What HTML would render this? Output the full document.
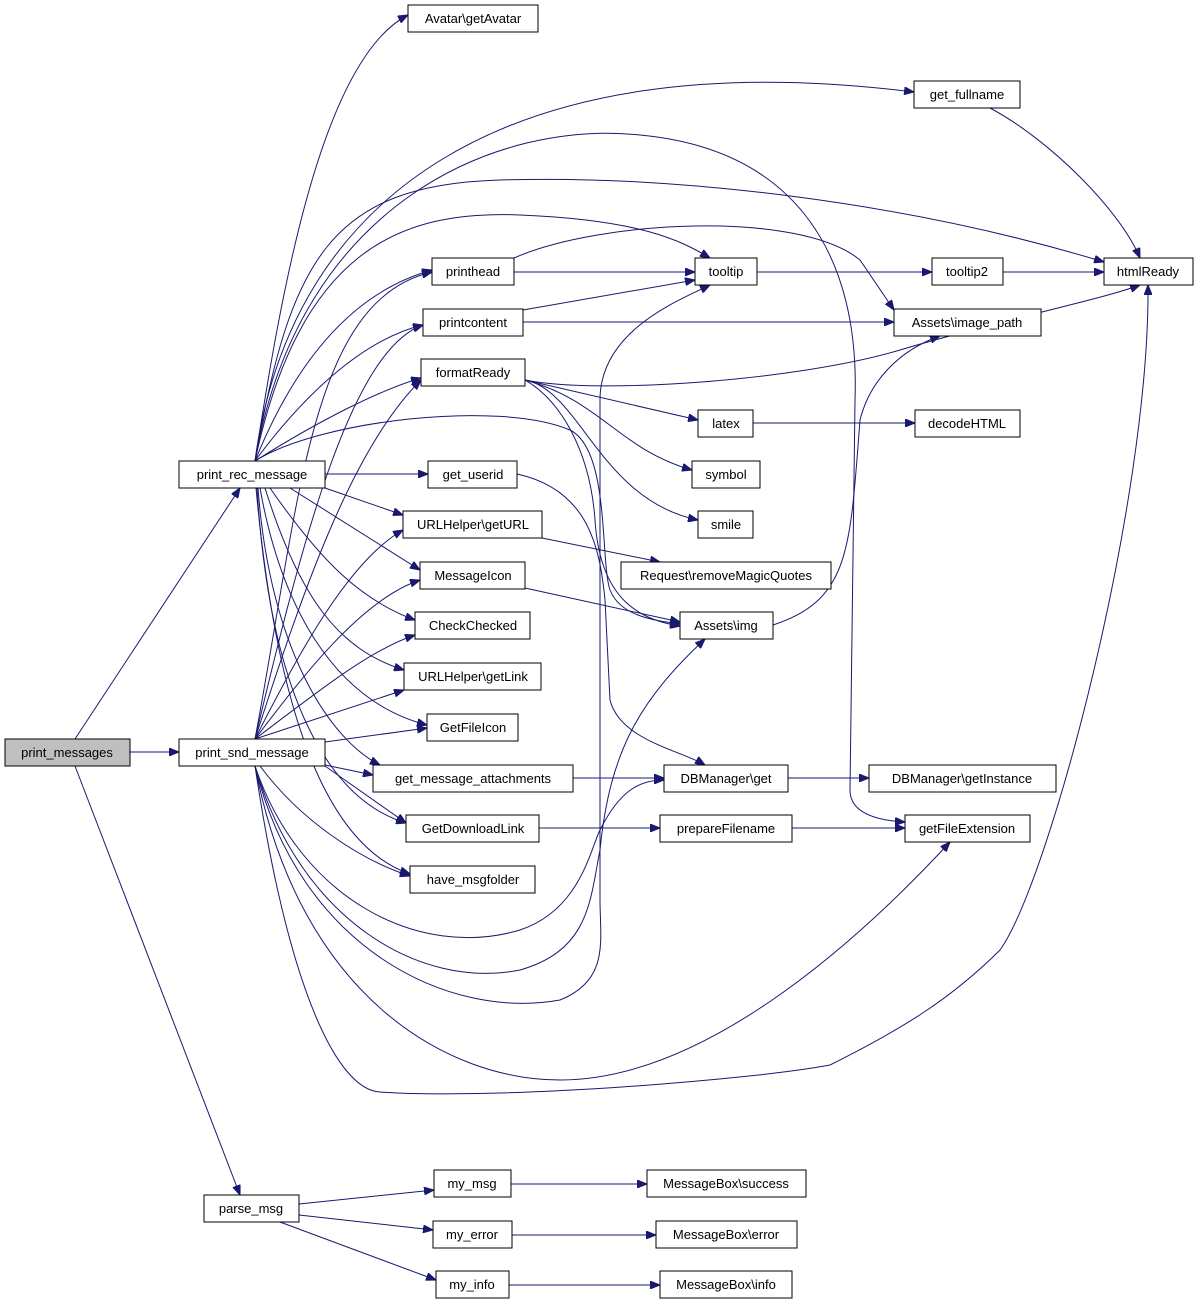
<!DOCTYPE html>
<html><head><meta charset="utf-8"><style>
html,body{margin:0;padding:0;background:#fff;}
svg{display:block;}
text{font-family:"Liberation Sans",sans-serif;font-size:13px;fill:#000;}
.n{fill:#fff;stroke:#000;stroke-width:1;}
.e{fill:none;stroke:#191970;stroke-width:1;}
</style></head><body>
<svg width="1200" height="1304" viewBox="0 0 1200 1304" xmlns="http://www.w3.org/2000/svg">
<defs><marker id="a" markerWidth="11" markerHeight="8" refX="10" refY="4" orient="auto" markerUnits="userSpaceOnUse"><path d="M0,0 L10,4 L0,8 z" fill="#191970" stroke="#191970"/></marker></defs>
<g class="e" marker-end="url(#a)">
<path d="M75,739 L240,488"/>
<path d="M130,752 L179,752"/>
<path d="M75,766 L240,1195"/>
<path d="M255,461 C280,300 320,60 408,15"/>
<path d="M255,461 C290,200 500,40 914,92"/>
<path d="M255,461 C290,260 330,185 500,180 S900,200 1104,262"/>
<path d="M255,461 C300,350 360,290 432,270"/>
<path d="M255,461 C300,250 400,210 520,215 S680,240 710,258"/>
<path d="M255,461 C300,400 360,340 423,325"/>
<path d="M255,461 C320,420 380,390 421,378"/>
<path d="M255,461 C300,200 500,120 640,135 C800,150 860,260 855,400 L850,790 C850,810 870,820 905,822"/>
<path d="M514,258 C600,220 800,210 860,260 L894,310"/>
<path d="M325,474 L428,474"/>
<path d="M255,461 C320,420 500,400 570,430 C610,450 600,560 610,590 C620,615 650,620 680,624"/>
<path d="M325,488 L403,515"/>
<path d="M290,488 L420,570"/>
<path d="M270,488 C320,560 360,600 415,620"/>
<path d="M265,488 C300,600 340,650 404,670"/>
<path d="M260,488 C280,600 330,700 427,725"/>
<path d="M258,488 C270,650 330,740 380,765"/>
<path d="M257,488 C270,700 330,800 406,823"/>
<path d="M256,488 C280,750 340,850 410,874"/>
<path d="M255,739 C300,500 310,300 432,272"/>
<path d="M255,739 C300,550 350,350 423,325"/>
<path d="M255,739 C300,600 350,450 421,380"/>
<path d="M255,739 C300,650 350,560 403,530"/>
<path d="M255,739 C300,680 360,600 420,580"/>
<path d="M255,739 C320,690 370,650 415,635"/>
<path d="M255,739 L404,690"/>
<path d="M325,742 L427,728"/>
<path d="M325,765 L373,775"/>
<path d="M325,766 L406,823"/>
<path d="M260,766 C300,820 360,860 410,876"/>
<path d="M255,766 C300,900 420,960 520,930 C580,910 590,850 600,830 C620,790 640,780 664,780"/>
<path d="M255,766 C300,920 420,990 520,970 C590,950 590,900 600,850 C610,750 640,700 705,639"/>
<path d="M255,766 C300,950 450,1020 560,1000 C610,980 600,940 600,900 L600,400 C600,330 680,300 710,285"/>
<path d="M255,766 C300,1000 450,1080 560,1080 C700,1080 850,950 950,842"/>
<path d="M255,766 C290,1000 340,1090 380,1092 C500,1100 750,1080 830,1065 C900,1030 950,1000 1000,950 C1050,880 1150,500 1148,285"/>
<path d="M517,474 C590,490 600,550 605,600 L610,700 C620,740 680,750 705,765"/>
<path d="M525,380 C600,395 800,380 900,350 C1000,320 1100,300 1140,285"/>
<path d="M525,380 L698,420"/>
<path d="M525,380 C600,400 620,450 692,470"/>
<path d="M525,380 C580,390 600,500 698,520"/>
<path d="M525,380 C560,400 590,450 595,520 C600,600 640,620 680,626"/>
<path d="M514,272 L695,272"/>
<path d="M523,310 L695,280"/>
<path d="M523,322 L894,322"/>
<path d="M757,272 L932,272"/>
<path d="M1003,272 L1104,272"/>
<path d="M990,108 C1050,140 1120,210 1140,258"/>
<path d="M773,625 C850,600 850,550 860,420 C870,380 900,350 940,336"/>
<path d="M753,423 L915,423"/>
<path d="M542,538 L660,562"/>
<path d="M525,588 L680,622"/>
<path d="M573,778 L664,778"/>
<path d="M788,778 L869,778"/>
<path d="M539,828 L660,828"/>
<path d="M792,828 L905,828"/>
<path d="M299,1204 L434,1190"/>
<path d="M299,1215 L433,1230"/>
<path d="M280,1222 L436,1280"/>
<path d="M511,1184 L647,1184"/>
<path d="M512,1235 L656,1235"/>
<path d="M509,1285 L660,1285"/>
</g>
<g>
<rect x="5" y="739" width="125" height="27" fill="#bfbfbf" stroke="#000"/><text x="67" y="757" text-anchor="middle">print_messages</text>
<rect class="n" x="179" y="461" width="146" height="27"/><text x="252" y="479" text-anchor="middle">print_rec_message</text>
<rect class="n" x="179" y="739" width="146" height="27"/><text x="252" y="757" text-anchor="middle">print_snd_message</text>
<rect class="n" x="204" y="1195" width="95" height="27"/><text x="251" y="1213" text-anchor="middle">parse_msg</text>
<rect class="n" x="408" y="5" width="130" height="27"/><text x="473" y="23" text-anchor="middle">Avatar\getAvatar</text>
<rect class="n" x="914" y="81" width="106" height="27"/><text x="967" y="99" text-anchor="middle">get_fullname</text>
<rect class="n" x="432" y="258" width="82" height="27"/><text x="473" y="276" text-anchor="middle">printhead</text>
<rect class="n" x="695" y="258" width="62" height="27"/><text x="726" y="276" text-anchor="middle">tooltip</text>
<rect class="n" x="932" y="258" width="71" height="27"/><text x="967" y="276" text-anchor="middle">tooltip2</text>
<rect class="n" x="1104" y="258" width="89" height="27"/><text x="1148" y="276" text-anchor="middle">htmlReady</text>
<rect class="n" x="423" y="309" width="100" height="27"/><text x="473" y="327" text-anchor="middle">printcontent</text>
<rect class="n" x="894" y="309" width="147" height="27"/><text x="967" y="327" text-anchor="middle">Assets\image_path</text>
<rect class="n" x="421" y="359" width="104" height="27"/><text x="473" y="377" text-anchor="middle">formatReady</text>
<rect class="n" x="698" y="410" width="55" height="27"/><text x="726" y="428" text-anchor="middle">latex</text>
<rect class="n" x="915" y="410" width="105" height="27"/><text x="967" y="428" text-anchor="middle">decodeHTML</text>
<rect class="n" x="692" y="461" width="68" height="27"/><text x="726" y="479" text-anchor="middle">symbol</text>
<rect class="n" x="428" y="461" width="89" height="27"/><text x="473" y="479" text-anchor="middle">get_userid</text>
<rect class="n" x="698" y="511" width="55" height="27"/><text x="726" y="529" text-anchor="middle">smile</text>
<rect class="n" x="403" y="511" width="139" height="27"/><text x="473" y="529" text-anchor="middle">URLHelper\getURL</text>
<rect class="n" x="621" y="562" width="210" height="27"/><text x="726" y="580" text-anchor="middle">Request\removeMagicQuotes</text>
<rect class="n" x="420" y="562" width="105" height="27"/><text x="473" y="580" text-anchor="middle">MessageIcon</text>
<rect class="n" x="680" y="612" width="93" height="27"/><text x="726" y="630" text-anchor="middle">Assets\img</text>
<rect class="n" x="415" y="612" width="115" height="27"/><text x="473" y="630" text-anchor="middle">CheckChecked</text>
<rect class="n" x="404" y="663" width="137" height="27"/><text x="473" y="681" text-anchor="middle">URLHelper\getLink</text>
<rect class="n" x="427" y="714" width="91" height="27"/><text x="473" y="732" text-anchor="middle">GetFileIcon</text>
<rect class="n" x="373" y="765" width="200" height="27"/><text x="473" y="783" text-anchor="middle">get_message_attachments</text>
<rect class="n" x="664" y="765" width="124" height="27"/><text x="726" y="783" text-anchor="middle">DBManager\get</text>
<rect class="n" x="869" y="765" width="187" height="27"/><text x="962" y="783" text-anchor="middle">DBManager\getInstance</text>
<rect class="n" x="406" y="815" width="133" height="27"/><text x="473" y="833" text-anchor="middle">GetDownloadLink</text>
<rect class="n" x="660" y="815" width="132" height="27"/><text x="726" y="833" text-anchor="middle">prepareFilename</text>
<rect class="n" x="905" y="815" width="125" height="27"/><text x="967" y="833" text-anchor="middle">getFileExtension</text>
<rect class="n" x="410" y="866" width="125" height="27"/><text x="473" y="884" text-anchor="middle">have_msgfolder</text>
<rect class="n" x="434" y="1170" width="77" height="27"/><text x="472" y="1188" text-anchor="middle">my_msg</text>
<rect class="n" x="647" y="1170" width="159" height="27"/><text x="726" y="1188" text-anchor="middle">MessageBox\success</text>
<rect class="n" x="433" y="1221" width="79" height="27"/><text x="472" y="1239" text-anchor="middle">my_error</text>
<rect class="n" x="656" y="1221" width="141" height="27"/><text x="726" y="1239" text-anchor="middle">MessageBox\error</text>
<rect class="n" x="436" y="1271" width="73" height="27"/><text x="472" y="1289" text-anchor="middle">my_info</text>
<rect class="n" x="660" y="1271" width="132" height="27"/><text x="726" y="1289" text-anchor="middle">MessageBox\info</text>
</g>
</svg>
</body></html>
